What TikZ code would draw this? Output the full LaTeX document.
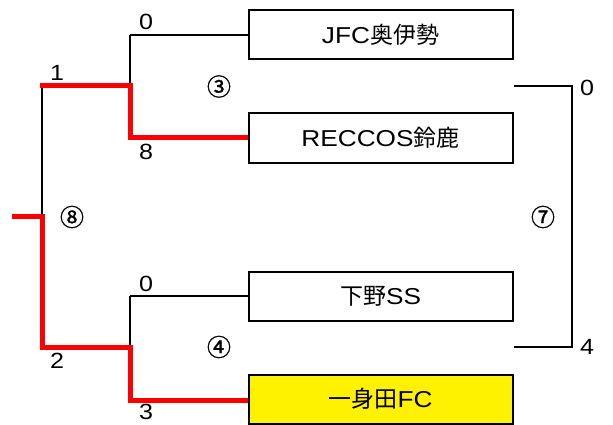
\documentclass[tikz,border=0pt]{standalone}
\usepackage{fontspec}
\setmainfont{Liberation Sans}[FakeStretch=1.14]
\newfontfamily\cjk{Noto Sans CJK JP}
\newfontfamily\cjkbold{Noto Sans CJK JP}[FakeBold=1.2]
\begin{document}
\begin{tikzpicture}[x=1pt,y=-1pt,
  team/.style={draw=black, line width=2pt, minimum width=264pt, minimum height=49pt, inner sep=0pt, font=\fontsize{23}{23}\selectfont},
  win/.style={fill=yellow},
  score/.style={inner sep=0pt, font=\fontsize{22}{22}\selectfont},
  game/.style={inner sep=0pt, font=\cjkbold\fontsize{24}{24}\selectfont},
  bline/.style={draw=black, line width=2pt},
  rline/.style={draw=red, line width=5pt, line join=miter}]
\useasboundingbox (0,0) rectangle (613,425);
% junction coordinates
\coordinate (j3) at (130,86);
\coordinate (j4) at (130,347);
\coordinate (j8) at (42,216);
\coordinate (j8t) at (42,86);
\coordinate (start) at (12,216);
\coordinate (j7t) at (572,86);
\coordinate (j7b) at (572,347);
% black lines
\draw[bline] (130,35) -- (j3);
\draw[bline] (130,296) -- (j4);
\draw[bline] (j8t) -- (j8);
% red lines
\draw[rline] (40,86) -- (j3) -- (130,138) -- (248,138);
\draw[rline] (start) -- (j8) -- (42,347) -- (j4) -- (130,400) -- (248,400);
% boxes
\node[team] (b1) at (380.5,35) {JFC{\cjk 奥伊勢}};
\node[team] (b2) at (380.5,138) {RECCOS{\cjk 鈴鹿}};
\node[team] (b3) at (380.5,296) {{\cjk 下野}SS};
\node[team,win] (b4) at (380.5,399) {{\cjk 一身田}FC};
\draw[bline] (b1.west) -- (130,35);
\draw[bline] (b3.west) -- (130,296);
% right bracket
\coordinate (w3) at (b2.east |- j3);
\coordinate (w4) at (b3.east |- j4);
\draw[bline] (w3) -- (j7t) -- (j7b) -- (w4);
% scores
\node[score] (s1) at (146,22) {0};
\node[score] (s2) at (146,152) {8};
\node[score] (s3) at (146,284) {0};
\node[score] (s4) at (146,412) {3};
\node[score] (s5) at (57,73) {1};
\node[score] (s6) at (57,361) {2};
\node[score] (s7) at (587,88) {0};
\node[score] (s8) at (587,347) {4};
% game numbers
\node[game] (g3) at (219,86.5) {③};
\node[game] (g4) at (219,347) {④};
\node[game] (g7) at (543,217) {⑦};
\node[game] (g8) at (72,217) {⑧};
\end{tikzpicture}
\end{document}
